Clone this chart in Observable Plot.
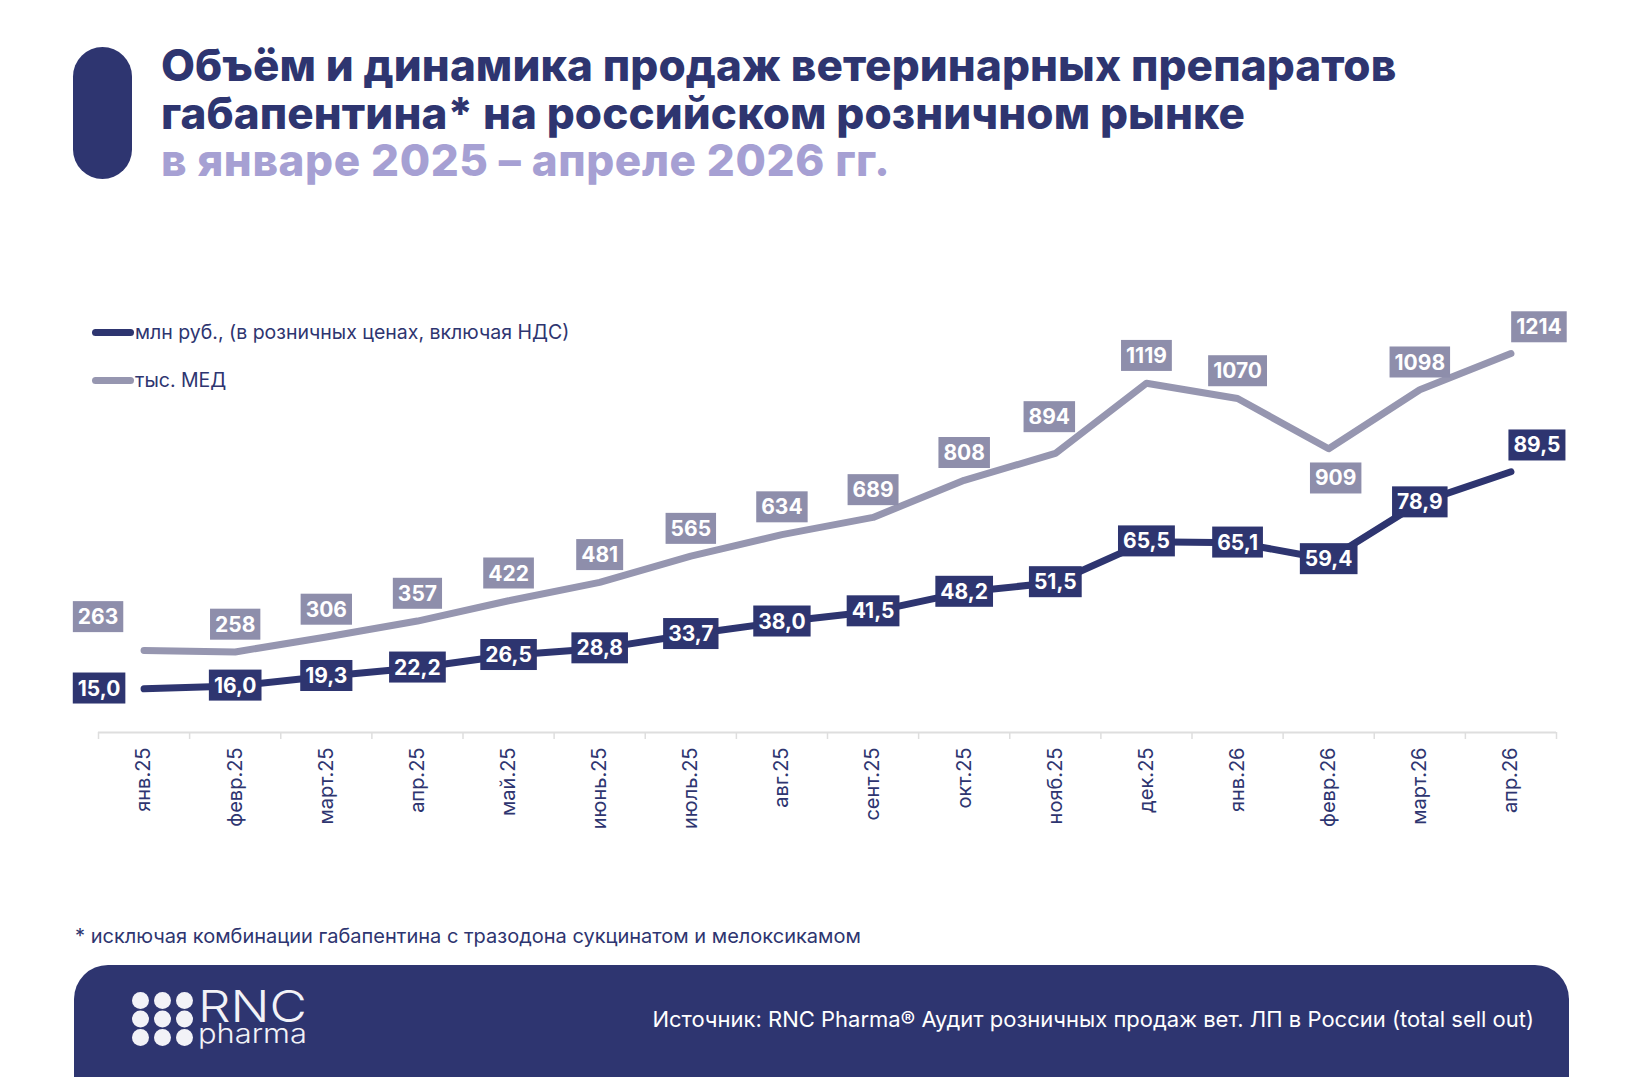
<!DOCTYPE html>
<html lang="ru">
<head>
<meta charset="utf-8">
<script src="https://cdn.jsdelivr.net/npm/d3@7"></script>
<script src="https://cdn.jsdelivr.net/npm/@observablehq/plot@0.6"></script>
<style>
  html, body { margin: 0; padding: 0; background: #ffffff; }
  body { font-family: Inter, "Noto Sans", sans-serif; color: #2e3570; }
  #page { position: relative; width: 1650px; height: 1077px; overflow: hidden; background: #ffffff; }
  .pill { position: absolute; left: 73px; top: 47px; width: 59px; height: 132px; border-radius: 30px; background: #2e3570; }
  .title { position: absolute; left: 161px; font-size: 44px; line-height: 47px; height: 47px; font-weight: 800; color: #2e3570; white-space: nowrap; letter-spacing: 0.1px; }
  .title.sub { color: #a6a0d3; letter-spacing: 0.6px; }
  #chart { position: absolute; left: 0; top: 260px; }
  .legend { position: absolute; left: 92px; font-size: 19.5px; color: #2e3570; display: flex; align-items: center; white-space: nowrap; }
  .legend .swatch { width: 42px; height: 7px; border-radius: 4px; margin-right: 1px; }
  .note { position: absolute; left: 75px; top: 924px; font-size: 20px; color: #2e3570; white-space: nowrap; }
  .footer { position: absolute; left: 74px; top: 965px; width: 1495px; height: 140px; background: #2e3570; border-radius: 34px 34px 0 0; }
  .source { position: absolute; right: 116px; top: 1006px; font-size: 22px; color: #ffffff; white-space: nowrap; }
  .logo { position: absolute; left: 130px; top: 978px; }
</style>
</head>
<body>
<div id="page">
  <div class="pill"></div>
  <div class="title" style="top:42px">Объём и динамика продаж ветеринарных препаратов</div>
  <div class="title" style="top:89.5px">габапентина* на российском розничном рынке</div>
  <div class="title sub" style="top:137px">в январе 2025 – апреле 2026 гг.</div>
  <div id="chart"></div>
  <div id="legend"></div>
  <div class="note">* исключая комбинации габапентина с тразодона сукцинатом и мелоксикамом</div>
  <div class="footer"></div>
  <svg class="logo" width="200" height="80" viewBox="0 0 200 80">
    <g fill="#f2f2f7" id="dots"></g>
    <text x="68" y="44" font-family="Inter" font-weight="300" font-size="44" fill="#f2f2f7" textLength="109" lengthAdjust="spacingAndGlyphs">RNC</text>
    <text x="68" y="65" font-family="Inter" font-weight="300" font-size="27" fill="#f2f2f7" textLength="109" lengthAdjust="spacingAndGlyphs">pharma</text>
  </svg>
  <div class="source">Источник: RNC Pharma® Аудит розничных продаж вет. ЛП в России (total sell out)</div>
</div>
<script>
// Months on the horizontal axis
const months = ["янв.25", "февр.25", "март.25", "апр.25", "май.25", "июнь.25", "июль.25", "авг.25",
                "сент.25", "окт.25", "нояб.25", "дек.25", "янв.26", "февр.26", "март.26", "апр.26"];
// Sales, million roubles (retail prices incl. VAT)
const rubValues = [15.0, 16.0, 19.3, 22.2, 26.5, 28.8, 33.7, 38.0, 41.5, 48.2, 51.5, 65.5, 65.1, 59.4, 78.9, 89.5];
// Sales, thousand minimal dosage units
const medValues = [263, 258, 306, 357, 422, 481, 565, 634, 689, 808, 894, 1119, 1070, 909, 1098, 1214];
const seriesNames = ["млн руб., (в розничных ценах, включая НДС)", "тыс. МЕД"];

// Primary and secondary value axes (both hidden) share the zero line
const rubAxisMax = 150;
const medAxisMax = 1400;

const colors = { rub: "#2e3570", medLine: "#9696b0", medBox: "#8e8eab", axis: "#dedede" };

// Label offsets (px) for the few labels that are not placed in the default spot
const medLabelOffset = { default: [0, -27], 0: [-46, -33], 10: [-6, -36], 13: [7, 30], 15: [28, -26] };
const rubLabelOffset = { default: [0, 0], 0: [-45, 0], 15: [26, -26] };

const rows = months.map((month, i) => ({ i, month, rub: rubValues[i], med: medValues[i] }));
const medY = d => d.med * rubAxisMax / medAxisMax;
const fmtRub = v => v.toFixed(1).replace(".", ",");
const fmtMed = v => String(v);
const boundaries = d3.range(months.length + 1).map(k => k - 0.5);

const labelFont = { fill: "white", fontSize: 21, fontWeight: 700 };

function labelMarks(key, yAccessor, fmt, offsets, tag) {
  return rows.map((r) => {
    const [dx, dy] = offsets[r.i] || offsets.default;
    return Plot.text([r], { x: "i", y: yAccessor, text: d => fmt(d[key]), dx, dy, ...labelFont, ariaDescription: tag });
  });
}

const chart = Plot.plot({
  width: 1650,
  height: 560,
  marginLeft: 98,
  marginRight: 94,
  marginTop: 35,
  marginBottom: 88,
  style: { fontFamily: "Inter, 'Noto Sans', sans-serif", background: "transparent", overflow: "visible" },
  x: { type: "linear", domain: [-0.5, months.length - 0.5], axis: null },
  y: { domain: [0, rubAxisMax], axis: null },
  marks: [
    Plot.ruleY([0], { stroke: colors.axis, strokeWidth: 2 }),
    Plot.ruleX(boundaries, { x: d => d, y1: 0, y2: 0, insetBottom: -7, stroke: colors.axis, strokeWidth: 1.5 }),
    Plot.text(rows, { x: "i", y: 0, text: "month", rotate: -90, textAnchor: "end", lineAnchor: "middle",
                      dy: 15, fontSize: 20, fill: colors.rub }),
    Plot.line(rows, { x: "i", y: medY, stroke: colors.medLine, strokeWidth: 7,
                      strokeLinecap: "round", strokeLinejoin: "round" }),
    Plot.line(rows, { x: "i", y: "rub", stroke: colors.rub, strokeWidth: 7,
                      strokeLinecap: "round", strokeLinejoin: "round" }),
    ...labelMarks("med", medY, fmtMed, medLabelOffset, "med-labels"),
    ...labelMarks("rub", "rub", fmtRub, rubLabelOffset, "rub-labels")
  ]
});
document.getElementById("chart").appendChild(chart);

// Boxes behind the value labels
function boxLabels(tag, fill) {
  chart.querySelectorAll(`g[aria-description="${tag}"] text`).forEach(t => {
    const bb = t.getBBox();
    const padX = 5, padY = 3;
    const rect = document.createElementNS("http://www.w3.org/2000/svg", "rect");
    rect.setAttribute("x", bb.x - padX);
    rect.setAttribute("y", bb.y - padY);
    rect.setAttribute("width", bb.width + 2 * padX);
    rect.setAttribute("height", bb.height + 2 * padY);
    rect.setAttribute("fill", fill);
    const tr = t.getAttribute("transform");
    if (tr) rect.setAttribute("transform", tr);
    t.parentNode.insertBefore(rect, t);
  });
}
boxLabels("med-labels", colors.medBox);
boxLabels("rub-labels", colors.rub);

// Legend
const legend = document.getElementById("legend");
[[seriesNames[0], colors.rub, 332], [seriesNames[1], colors.medLine, 380]].forEach(([name, color, y]) => {
  const item = document.createElement("div");
  item.className = "legend";
  item.style.top = (y - 14) + "px";
  item.style.height = "28px";
  item.innerHTML = `<span class="swatch" style="background:${color}"></span><span>${name}</span>`;
  legend.appendChild(item);
});

// Logo dots
const dots = document.getElementById("dots");
for (let r = 0; r < 3; r++) {
  for (let c = 0; c < 3; c++) {
    const circle = document.createElementNS("http://www.w3.org/2000/svg", "circle");
    circle.setAttribute("cx", 10.5 + c * 22);
    circle.setAttribute("cy", 22.5 + r * 18.5);
    circle.setAttribute("r", 8.5);
    dots.appendChild(circle);
  }
}
</script>
</body>
</html>
